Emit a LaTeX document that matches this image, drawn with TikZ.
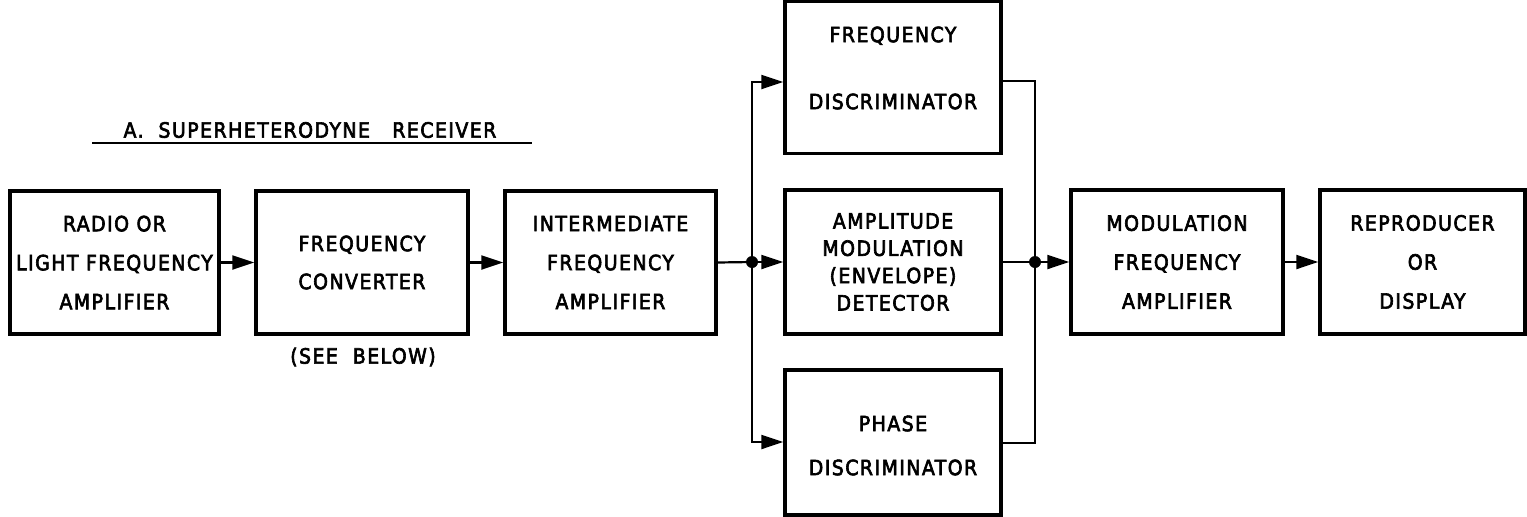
\documentclass[tikz,border=0pt]{standalone}
\usepackage{fontspec}
\setmainfont{DejaVu Sans Condensed}[LetterSpace=7,FakeBold=3]
\usetikzlibrary{arrows.meta}
\begin{document}
\begin{tikzpicture}[x=1pt,y=-1pt,
  box/.style={draw, line width=3.4pt, inner sep=0pt, align=center, font=\fontsize{21}{39}\selectfont},
  lbl/.style={inner sep=0pt, align=center, font=\fontsize{21}{39}\selectfont},
  conn/.style={line width=2.2pt, -{Triangle[length=22pt,width=14pt]}},
  wire/.style={line width=2.2pt},
  dot/.style={circle, fill, inner sep=0pt, minimum size=12pt}]
\useasboundingbox (0,0) rectangle (1527,517);
% boxes
\node[box, minimum width=209, minimum height=143] (b1) at (114.5,262.5) {RADIO OR\\LIGHT FREQUENCY\\AMPLIFIER};
\node[box, minimum width=212, minimum height=143] (b2) at (362,262.5) {FREQUENCY\\[-1pt]CONVERTER};
\node[box, minimum width=211, minimum height=143] (b3) at (610.5,262.5) {INTERMEDIATE\\FREQUENCY\\AMPLIFIER};
\node[box, minimum width=216, minimum height=152] (fd) at (893,77.5) {};
\node[lbl] (fdt) at (893,68) {FREQUENCY\\[28pt]DISCRIMINATOR};
\node[box, minimum width=216, minimum height=144, font=\fontsize{21}{27.3}\selectfont] (am) at (893,262) {AMPLITUDE\\MODULATION\\(ENVELOPE)\\DETECTOR};
\node[box, minimum width=216, minimum height=145] (pd) at (893,442.5) {};
\node[lbl] (pdt) at (893,445.5) {PHASE\\[5pt]DISCRIMINATOR};
\node[box, minimum width=212, minimum height=144] (mfa) at (1177,262) {MODULATION\\FREQUENCY\\AMPLIFIER};
\node[box, minimum width=205, minimum height=144] (rd) at (1422.5,262) {REPRODUCER\\OR\\DISPLAY};
% title
\node[lbl] (title) at (310,130) {A.\ \ SUPERHETERODYNE\ \ \ RECEIVER};
\coordinate (ul1) at (92,143);
\coordinate (ul2) at (532,143);
\draw[line width=2pt] (ul1) -- (ul2);
\node[lbl] (see) at (363,357) {(SEE \ BELOW)};
% junctions
\coordinate (jl) at (752,262);
\coordinate (jr) at (1035,262);
% connectors
\draw[conn] (b1.east) -- (b2.west);
\draw[conn] (b2.east) -- (b3.west);
\draw[wire] (b3.east) -- (jl);
\draw[conn] (jl) -- (am.west);
\draw[conn] (jl) |- (fd.west |- 0,82);
\draw[conn] (jl) |- (pd.west |- 0,442);
\draw[wire] (fd.east |- 0,81) -| (jr);
\draw[wire] (pd.east |- 0,443) -| (jr);
\draw[wire] (am.east) -- (jr);
\draw[conn] (jr) -- (mfa.west);
\draw[conn] (mfa.east) -- (rd.west);
\node[dot] (dl) at (jl) {};
\node[dot] (dr) at (jr) {};
\end{tikzpicture}
\end{document}
